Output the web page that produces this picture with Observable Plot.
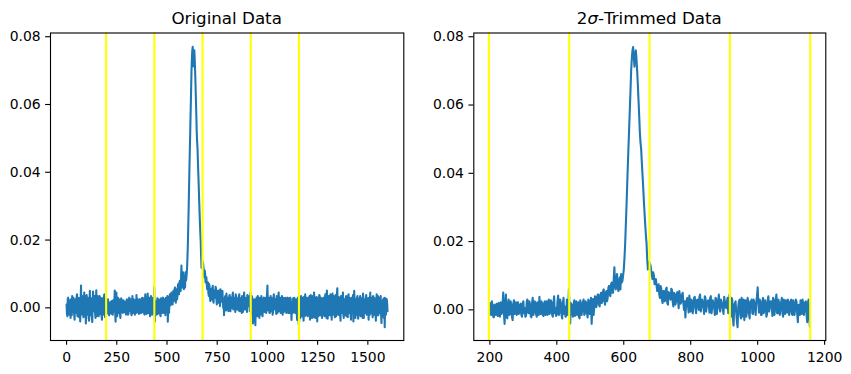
<!DOCTYPE html>
<html><head><meta charset="utf-8">
<script src="https://cdn.jsdelivr.net/npm/d3@7"></script>
<script src="https://cdn.jsdelivr.net/npm/@observablehq/plot@0.6"></script>
<style>
body{margin:0;background:#fff;}
#wrap{position:relative;width:851px;height:374px;overflow:hidden;background:#fff;}
#wrap svg{position:absolute;top:0;}
</style></head><body><div id="wrap"></div>
<script>
// readings, in units of 1e-4.
// readingsA are at x = 0, 4, 8, ...; readingsB at x = 2, 6, 10, ...
const STEP = 4;
const UNIT = 1e-4;
const readingsA = [
  // 0-196
  10,-25,30,-5,22,-30,15,35,-12,8,
  -35,25,-8,40,-20,5,28,-40,66,-15,
  30,-28,45,2,-46,38,-10,20,-38,50,
  -22,12,-42,48,0,25,-30,52,-18,10,
  -25,35,-5,18,-35,28,-12,40,-28,5,
  // 200-436
  20,-15,12,-22,8,18,-18,2,22,-10,
  51,-41,45,-25,30,-12,15,-30,28,0,
  -15,22,-8,18,-20,25,5,-18,30,-10,
  15,-22,35,-5,20,-20,10,38,-12,18,
  -18,25,0,-15,30,-8,22,-20,40,5,
  -12,42,-5,20,-25,35,10,-18,25,61,
  // 440-516
  -40,15,-20,28,5,-15,22,-25,18,0,
  30,-10,20,-22,25,8,-41,32,10,38,
  // 520-596
  20,45,10,50,25,60,15,55,35,70,
  40,80,50,125,60,105,55,95,105,85,
  // 600-700
  118,190,300,420,530,640,735,770,712,760,
  700,615,520,470,395,320,250,195,118,140,
  130,100,110,75,90,55,
  // 704-776
  75,35,62,20,55,28,65,15,48,30,
  58,10,45,22,52,5,40,25,50,
  // 780-912
  0,-22,30,10,42,-5,25,5,38,-10,
  30,0,45,8,22,-12,35,10,28,-8,
  40,5,20,-15,32,12,45,-5,25,0,
  38,10,22,-10,
  // 916-976
  45,-20,30,-46,20,-10,-51,25,-15,35,
  0,-30,28,-5,20,-25,
  // 980-1156
  15,-10,30,5,25,66,-8,22,-15,35,
  0,18,-12,40,8,25,-18,30,2,45,
  -10,20,5,35,-20,15,28,-8,22,0,
  30,-15,18,5,25,-36,12,28,-12,20,
  0,25,-36,30,-50,
  // 1160-1596
  20,-30,35,-12,25,-38,10,40,-20,15,
  -25,30,5,-35,38,-10,22,-28,45,0,
  -18,32,-40,20,8,35,-22,15,-30,28,
  5,-25,40,-8,51,-32,18,30,-15,25,
  -35,42,0,22,-28,38,-12,58,-20,10,
  30,-38,25,-5,45,-30,15,-22,35,8,
  -28,40,-10,20,-35,28,5,-40,50,-15,
  25,-20,35,-32,12,30,-25,18,-8,42,
  -30,22,0,38,-18,28,-35,15,45,-10,
  20,-28,32,-5,25,-38,40,10,-22,30,
  -15,35,-45,20,25,-30,-57,28,5,15
];
const readingsB = [
  // 2-198
  -18,28,-20,15,-12,25,-22,5,30,-20,
  18,-15,32,-25,30,-28,0,22,-20,35,
  -10,20,-25,35,15,-20,30,-30,12,-15,
  28,-30,20,-10,35,-15,20,-25,35,-20,
  15,-18,30,-22,10,-20,32,-5,25,-15,
  // 202-438
  -8,25,-20,15,-15,-5,20,-20,-12,18,
  -10,20,-20,15,-15,25,-20,18,-12,22,
  20,-12,15,-15,18,-10,-20,22,-8,25,
  -18,20,-15,25,-12,22,-15,-8,25,-15,
  20,-15,25,-10,-12,28,-15,20,-10,-18,
  25,-15,30,-15,18,-12,-20,30,-15,10,
  // 442-518
  20,-10,15,-18,25,10,-20,28,-15,22,
  -15,25,-8,30,-12,35,5,-15,40,8,
  // 522-598
  45,15,40,20,55,30,50,25,65,45,
  75,50,90,70,95,65,85,60,80,100,
  // 602-702
  150,245,360,475,585,700,760,740,745,735,
  660,570,490,430,360,285,220,150,125,135,
  115,90,100,85,70,72,
  // 706-778
  45,70,30,55,25,60,20,52,35,62,
  25,50,15,48,30,55,18,45,20,
  // 782-914
  25,12,35,-8,20,30,-10,35,15,28,
  12,38,-5,30,10,40,-5,25,15,35,
  -10,28,10,35,-12,25,5,30,15,-12,
  25,5,35,20,
  // 918-978
  10,35,-25,15,25,-35,10,30,-25,-20,
  30,5,-20,35,-10,25,
  // 982-1158
  30,-12,20,-15,40,20,30,-15,25,-10,
  28,-20,30,-5,25,5,35,-15,28,-10,
  30,-15,22,-10,30,-12,5,30,-15,25,
  -12,28,-15,30,-10,15,-15,20,30,-15,
  22,-15,20,-20,-40,
  // 1162-1598
  -15,28,-25,30,-10,32,-25,15,30,-20,
  25,-22,35,-15,20,-30,35,-15,20,-30,
  25,-12,30,-25,38,-15,30,-10,20,-20,
  30,-20,15,-30,25,-10,35,-22,40,-15,
  28,-20,35,-15,30,-25,40,-15,32,-22,
  -20,35,-15,30,-20,25,-15,30,-25,20,
  35,-15,28,-20,30,-15,38,-10,20,-30,
  -10,30,-15,25,-20,35,-10,28,-30,20,
  25,-15,30,-20,15,-10,30,-20,-15,30,
  -15,35,-20,28,-15,20,-22,35,-10,25,
  30,-20,15,-25,-10,30,15,-20,25,-10
];
const boundaries = [197, 437, 677, 917, 1157];
const trimRange = [197, 1157];
const leftXTicks = [0, 250, 500, 750, 1000, 1250, 1500];
const rightXTicks = [200, 400, 600, 800, 1000, 1200];
const yTicks = [0, 0.02, 0.04, 0.06, 0.08];
const leftTitle = ["Original Data"];
const rightTitle = ["2", "σ", "-Trimmed Data"];

const samples = readingsA.map((v, i) => ({x: i * STEP, y: v * UNIT}))
  .concat(readingsB.map((v, i) => ({x: i * STEP + STEP / 2, y: v * UNIT})))
  .sort((a, b) => a.x - b.x);
const trimmed = samples.filter(d => d.x >= trimRange[0] && d.x <= trimRange[1]);

function panel({data, xDomain, yDomain, xTicks, width, ml, mr, title, left}) {
  const mt = 32.5, mb = 34;
  const svg = Plot.plot({
    width, height: 374,
    marginLeft: ml, marginRight: mr, marginTop: mt, marginBottom: mb,
    style: {fontFamily: "DejaVu Sans", fontSize: "13.9px", color: "black", background: "white", overflow: "visible"},
    x: {domain: xDomain},
    y: {domain: yDomain},
    marks: [
      Plot.line(data, {x: "x", y: "y", stroke: "#1f77b4", strokeWidth: 2.08, strokeLinejoin: "round"}),
      Plot.ruleX(boundaries, {stroke: "#ffff00", strokeWidth: 2.08}),
      Plot.frame({stroke: "black", strokeWidth: 1.11}),
      Plot.axisX({ticks: xTicks, tickSize: 4.86, tickPadding: 6.5, tickFormat: d => String(d), label: null, fontSize: 13.9, strokeWidth: 1.11}),
      Plot.axisY({ticks: yTicks, tickSize: 4.86, tickPadding: 5, tickFormat: d3.format(".2f"), label: null, fontSize: 13.9, strokeWidth: 1.11})
    ]
  });
  svg.style.left = left + "px";
  const cx = ml + (width - ml - mr) / 2;
  const t = d3.select(svg).append("text")
    .attr("x", cx).attr("y", 24)
    .attr("text-anchor", "middle")
    .attr("font-family", "DejaVu Sans")
    .attr("font-size", "16.7px")
    .attr("fill", "black");
  title.forEach(part => {
    const s = t.append("tspan").text(part);
    if (part === "σ") s.attr("font-style", "italic");
  });
  return svg;
}

const wrap = document.getElementById("wrap");
wrap.appendChild(panel({
  data: samples, xDomain: [-80, 1679], yDomain: [-0.00964, 0.0811],
  xTicks: leftXTicks, width: 420, ml: 50, mr: 16.7, title: leftTitle, left: 0
}));
wrap.appendChild(panel({
  data: trimmed, xDomain: [152, 1203.5], yDomain: [-0.00898, 0.0811],
  xTicks: rightXTicks, width: 431, ml: 53.3, mr: 25.7, title: rightTitle, left: 420
}));
</script></body></html>
